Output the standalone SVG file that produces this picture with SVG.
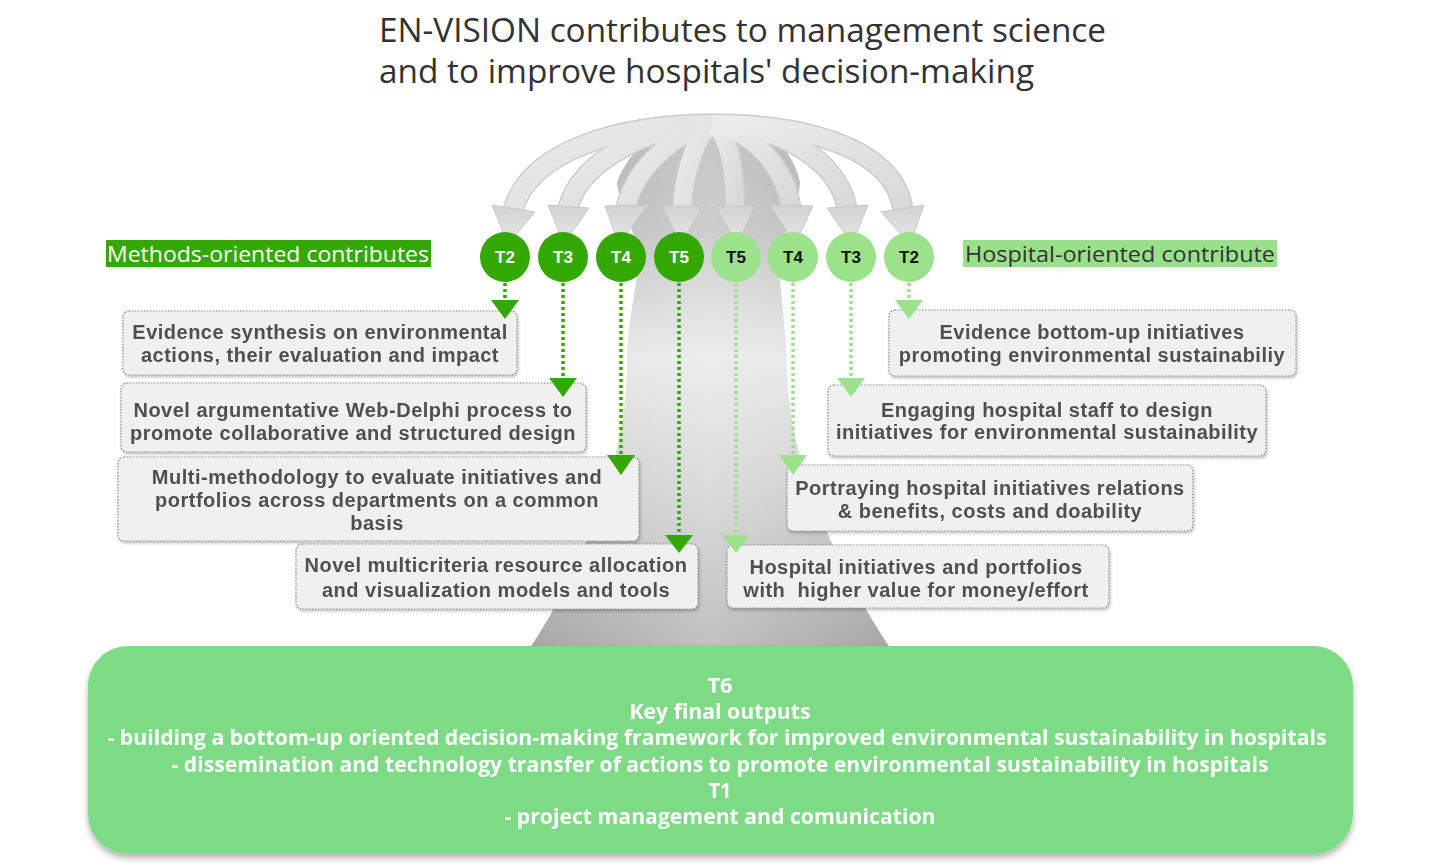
<svg xmlns="http://www.w3.org/2000/svg" width="1429" height="865" viewBox="0 0 1429 865">
<defs>
<style>
.title{font-family:"Open Sans","DejaVu Sans",sans-serif;font-size:33px;fill:#333333}
.box{fill:#f0f0f0;stroke:#8a8a8a;stroke-width:1.2;stroke-dasharray:1.5 1.5}
.bt{font-family:"Liberation Sans",Arial,sans-serif;font-weight:bold;font-size:20px;letter-spacing:0.5px;fill:#505050;text-anchor:middle}
.cl{font-family:"Liberation Sans",Arial,sans-serif;font-weight:bold;font-size:17px;text-anchor:middle}
.dk{fill:#33a800}
.lt{fill:#9be28b}
.dkl{stroke:#33a800;stroke-width:3.5;stroke-dasharray:3 3;fill:none}
.ltl{stroke:#9be28b;stroke-width:3.5;stroke-dasharray:3 3;fill:none}
.arc{fill:none;stroke:#cbcbcb;stroke-width:21}
.arc2{fill:none;stroke:url(#arcg);stroke-width:18}
.ah{fill:url(#headg);stroke:#c8c8c8;stroke-width:1}
.lab{font-family:"Open Sans","DejaVu Sans",sans-serif;font-size:22px}
.bot{font-family:"Open Sans","DejaVu Sans",sans-serif;font-weight:bold;font-size:21px;fill:#ffffff;text-anchor:middle}
</style>
<linearGradient id="trunk" x1="0" y1="0" x2="0" y2="1">
<stop offset="0" stop-color="#adadad"/>
<stop offset="0.2" stop-color="#b8b8b8"/>
<stop offset="0.45" stop-color="#e6e6e6"/>
<stop offset="0.75" stop-color="#c6c6c6"/>
<stop offset="1" stop-color="#a6a6a6"/>
</linearGradient>
<linearGradient id="trunkh" x1="0" y1="0" x2="1" y2="0">
<stop offset="0" stop-color="#ffffff" stop-opacity="0"/>
<stop offset="0.5" stop-color="#ffffff" stop-opacity="0.3"/>
<stop offset="1" stop-color="#ffffff" stop-opacity="0"/>
</linearGradient>
<linearGradient id="arcg" x1="0" y1="0" x2="1" y2="1">
<stop offset="0" stop-color="#ececec"/>
<stop offset="1" stop-color="#d9d9d9"/>
</linearGradient>
<linearGradient id="headg" x1="0" y1="0" x2="0" y2="1">
<stop offset="0" stop-color="#d2d2d2"/>
<stop offset="1" stop-color="#e8e8e8"/>
</linearGradient>
<filter id="sh" x="-5%" y="-5%" width="110%" height="120%">
<feDropShadow dx="1" dy="2" stdDeviation="1.5" flood-color="#000" flood-opacity="0.25"/>
</filter>
<filter id="shb" x="-5%" y="-5%" width="110%" height="115%">
<feDropShadow dx="0" dy="4" stdDeviation="3" flood-color="#000" flood-opacity="0.3"/>
</filter>
</defs>
<rect width="1429" height="865" fill="#ffffff"/>

<g id="title">
<text class="title" x="379" y="42" textLength="727" lengthAdjust="spacingAndGlyphs">EN-VISION contributes to management science</text>
<text class="title" x="379" y="83" textLength="655" lengthAdjust="spacingAndGlyphs">and to improve hospitals' decision-making</text>
</g>

<g id="trunk">
<path d="M530,648 C585,565 627,455 627,365 C627,310 642,280 636,245 C630,215 617,195 617,182 Q640,123 713,121 Q786,123 800,182 C800,198 788,222 781,248 C776,280 787,320 787,375 C790,460 832,560 890,648 Z" fill="url(#trunk)"/>
<path d="M530,648 C585,565 627,455 627,365 C627,310 642,280 636,245 C630,215 617,195 617,182 Q640,123 713,121 Q786,123 800,182 C800,198 788,222 781,248 C776,280 787,320 787,375 C790,460 832,560 890,648 Z" fill="url(#trunkh)"/>
</g>

<g id="arches">
<path class="arc" d="M713,124 C620,124 530,150 513,210"/>
<path class="arc" d="M713,124 C650,126 580,160 568,208"/>
<path class="arc" d="M713,124 C680,130 635,165 626,208"/>
<path class="arc" d="M713,124 C695,135 684,175 682,208"/>
<path class="arc" d="M713,124 C730,135 735,175 735,208"/>
<path class="arc" d="M713,124 C750,130 785,165 791,208"/>
<path class="arc" d="M713,124 C780,126 838,160 847,208"/>
<path class="arc" d="M713,124 C810,124 895,150 903,210"/>
<path class="arc2" d="M713,124 C620,124 530,150 513,210"/>
<path class="arc2" d="M713,124 C650,126 580,160 568,208"/>
<path class="arc2" d="M713,124 C680,130 635,165 626,208"/>
<path class="arc2" d="M713,124 C695,135 684,175 682,208"/>
<path class="arc2" d="M713,124 C730,135 735,175 735,208"/>
<path class="arc2" d="M713,124 C750,130 785,165 791,208"/>
<path class="arc2" d="M713,124 C780,126 838,160 847,208"/>
<path class="arc2" d="M713,124 C810,124 895,150 903,210"/>
<polygon class="ah" points="492,205 535,212 508,244"/>
<polygon class="ah" points="548,205 589,208 564,244"/>
<polygon class="ah" points="605,206 648,205 619,244"/>
<polygon class="ah" points="662,206 702,206 681,244"/>
<polygon class="ah" points="715,206 755,206 737,244"/>
<polygon class="ah" points="770,205 813,206 795,244"/>
<polygon class="ah" points="827,208 868,205 852,244"/>
<polygon class="ah" points="881,212 924,205 910,244"/>
</g>

<g id="label-methods">
<rect x="106" y="240" width="325" height="27" fill="#33a800"/>
<text class="lab" x="107" y="262" fill="#ffffff" textLength="322" lengthAdjust="spacingAndGlyphs">Methods-oriented contributes</text>
</g>
<g id="label-hospital">
<rect x="963" y="240" width="314" height="27" fill="#99e08a"/>
<text class="lab" x="965" y="262" fill="#333333" textLength="310" lengthAdjust="spacingAndGlyphs">Hospital-oriented contribute</text>
</g>

<g id="circles">
<g id="c-t2-m"><circle cx="505" cy="257" r="25" class="dk"/><text class="cl" x="505" y="263" fill="#ffffff">T2</text></g>
<g id="c-t3-m"><circle cx="563" cy="257" r="25" class="dk"/><text class="cl" x="563" y="263" fill="#ffffff">T3</text></g>
<g id="c-t4-m"><circle cx="621" cy="257" r="25" class="dk"/><text class="cl" x="621" y="263" fill="#ffffff">T4</text></g>
<g id="c-t5-m"><circle cx="679" cy="257" r="25" class="dk"/><text class="cl" x="679" y="263" fill="#ffffff">T5</text></g>
<g id="c-t5-h"><circle cx="736" cy="257" r="25" class="lt"/><text class="cl" x="736" y="263" fill="#111111">T5</text></g>
<g id="c-t4-h"><circle cx="793" cy="257" r="25" class="lt"/><text class="cl" x="793" y="263" fill="#111111">T4</text></g>
<g id="c-t3-h"><circle cx="851" cy="257" r="25" class="lt"/><text class="cl" x="851" y="263" fill="#111111">T3</text></g>
<g id="c-t2-h"><circle cx="909" cy="257" r="25" class="lt"/><text class="cl" x="909" y="263" fill="#111111">T2</text></g>
</g>

<g id="box-l1" filter="url(#sh)">
<rect class="box" x="123" y="311" width="394" height="64" rx="6"/>
<text class="bt" x="320" y="339">Evidence synthesis on environmental</text>
<text class="bt" x="320" y="362">actions, their evaluation and impact</text>
</g>
<g id="box-l2" filter="url(#sh)">
<rect class="box" x="121" y="383" width="465" height="69" rx="6"/>
<text class="bt" x="353" y="417">Novel argumentative Web-Delphi process to</text>
<text class="bt" x="353" y="440">promote collaborative and structured design</text>
</g>
<g id="box-l3" filter="url(#sh)">
<rect class="box" x="118" y="457" width="521" height="84" rx="6"/>
<text class="bt" x="377" y="484">Multi-methodology to evaluate initiatives and</text>
<text class="bt" x="377" y="507">portfolios across departments on a common</text>
<text class="bt" x="377" y="530">basis</text>
</g>
<g id="box-l4" filter="url(#sh)">
<rect class="box" x="296" y="544" width="402" height="65" rx="6"/>
<text class="bt" x="496" y="572">Novel multicriteria resource allocation</text>
<text class="bt" x="496" y="597">and visualization models and tools</text>
</g>
<g id="box-r1" filter="url(#sh)">
<rect class="box" x="889" y="310" width="407" height="66" rx="6"/>
<text class="bt" x="1092" y="339">Evidence bottom-up initiatives</text>
<text class="bt" x="1092" y="362">promoting environmental sustainabiliy</text>
</g>
<g id="box-r2" filter="url(#sh)">
<rect class="box" x="828" y="385" width="438" height="71" rx="6"/>
<text class="bt" x="1047" y="417">Engaging hospital staff to design</text>
<text class="bt" x="1047" y="439">initiatives for environmental sustainability</text>
</g>
<g id="box-r3" filter="url(#sh)">
<rect class="box" x="787" y="465" width="406" height="66" rx="6"/>
<text class="bt" x="990" y="495">Portraying hospital initiatives relations</text>
<text class="bt" x="990" y="518">&amp; benefits, costs and doability</text>
</g>
<g id="box-r4" filter="url(#sh)">
<rect class="box" x="727" y="545" width="382" height="63" rx="6"/>
<text class="bt" x="916" y="574" xml:space="preserve">Hospital initiatives and portfolios</text>
<text class="bt" x="916" y="597" xml:space="preserve">with  higher value for money/effort</text>
</g>

<g id="connectors">
<line class="dkl" x1="505" y1="283" x2="505" y2="302"/>
<polygon class="dk" points="491,300 519,300 505,319"/>
<line class="dkl" x1="563" y1="283" x2="563" y2="380"/>
<polygon class="dk" points="549,378 577,378 563,397"/>
<line class="dkl" x1="621" y1="283" x2="621" y2="457"/>
<polygon class="dk" points="607,455 635,455 621,475"/>
<line class="dkl" x1="679" y1="283" x2="679" y2="537"/>
<polygon class="dk" points="665,535 693,535 679,553"/>
<line class="ltl" x1="736" y1="283" x2="736" y2="537"/>
<polygon class="lt" points="722,535 750,535 736,553"/>
<line class="ltl" x1="793" y1="283" x2="793" y2="457"/>
<polygon class="lt" points="779,455 807,455 793,475"/>
<line class="ltl" x1="851" y1="283" x2="851" y2="380"/>
<polygon class="lt" points="837,378 865,378 851,397"/>
<line class="ltl" x1="909" y1="283" x2="909" y2="302"/>
<polygon class="lt" points="895,300 923,300 909,319"/>
</g>

<g id="box-t6" filter="url(#shb)">
<rect x="88" y="646" width="1265" height="208" rx="40" fill="#7cdb84"/>
<text class="bot" x="720" y="693" textLength="25" lengthAdjust="spacingAndGlyphs">T6</text>
<text class="bot" x="720" y="719" textLength="181" lengthAdjust="spacingAndGlyphs">Key final outputs</text>
<text class="bot" x="717" y="745" textLength="1219" lengthAdjust="spacingAndGlyphs">- building a bottom-up oriented decision-making framework for improved environmental sustainability in hospitals</text>
<text class="bot" x="720" y="772" textLength="1097" lengthAdjust="spacingAndGlyphs">- dissemination and technology transfer of actions to promote environmental sustainability in hospitals</text>
<text class="bot" x="720" y="798" textLength="23" lengthAdjust="spacingAndGlyphs">T1</text>
<text class="bot" x="720" y="824" textLength="431" lengthAdjust="spacingAndGlyphs">- project management and comunication</text>
</g>
</svg>
